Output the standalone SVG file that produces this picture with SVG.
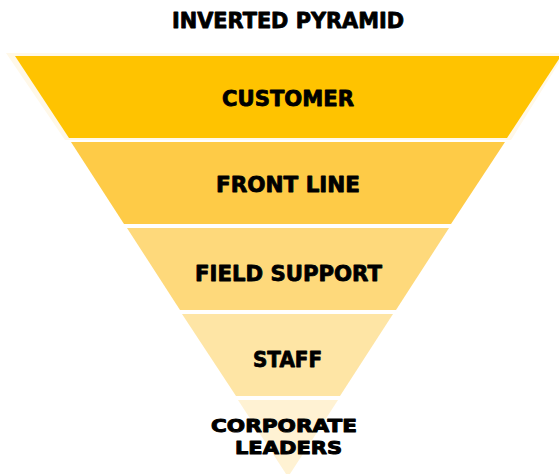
<svg xmlns="http://www.w3.org/2000/svg" width="559" height="474" viewBox="0 0 559 474">
<style>
text{font-family:"DejaVu Sans","Liberation Sans",sans-serif;font-weight:bold;font-size:20.5px;fill:#000;stroke:#000;stroke-width:0.8px;stroke-linejoin:round;text-anchor:middle;}
.sm{font-size:18.5px;stroke-width:1px}
.l1{fill:#FFC300}.l2{fill:#FECB47}.l3{fill:#FED97B}.l4{fill:#FEE5A5}.l5{fill:#FFF2D3}
</style>
<rect width="559" height="474" fill="#fff"/>
<g id="title"><text x="288" y="28" textLength="232" lengthAdjust="spacingAndGlyphs">INVERTED PYRAMID</text></g>
<g id="customer">
<polygon points="6,53 565,53 511,140 65,140" fill="#FFF8E8"/>
<polygon class="l1" points="15,56 561,56 507,138 69,138"/>
<text x="288" y="106" textLength="132" lengthAdjust="spacingAndGlyphs">CUSTOMER</text>
</g>
<g id="front-line">
<polygon class="l2" points="71,142 505,142 451,224 124,224"/>
<text x="288" y="192" textLength="144" lengthAdjust="spacingAndGlyphs">FRONT LINE</text>
</g>
<g id="field-support">
<polygon class="l3" points="127,228 449,228 396,310 180,310"/>
<text x="288.5" y="281" textLength="187" lengthAdjust="spacingAndGlyphs">FIELD SUPPORT</text>
</g>
<g id="staff">
<polygon class="l4" points="182,314 393,314 340,396 236,396"/>
<text x="287.5" y="367" textLength="69" lengthAdjust="spacingAndGlyphs">STAFF</text>
</g>
<g id="corporate-leaders">
<polygon class="l5" points="238,400 338,400 288,477"/>
<text class="sm" x="284" y="432" textLength="146" lengthAdjust="spacingAndGlyphs">CORPORATE</text>
<text class="sm" x="288.5" y="454" textLength="107" lengthAdjust="spacingAndGlyphs">LEADERS</text>
</g>
</svg>
